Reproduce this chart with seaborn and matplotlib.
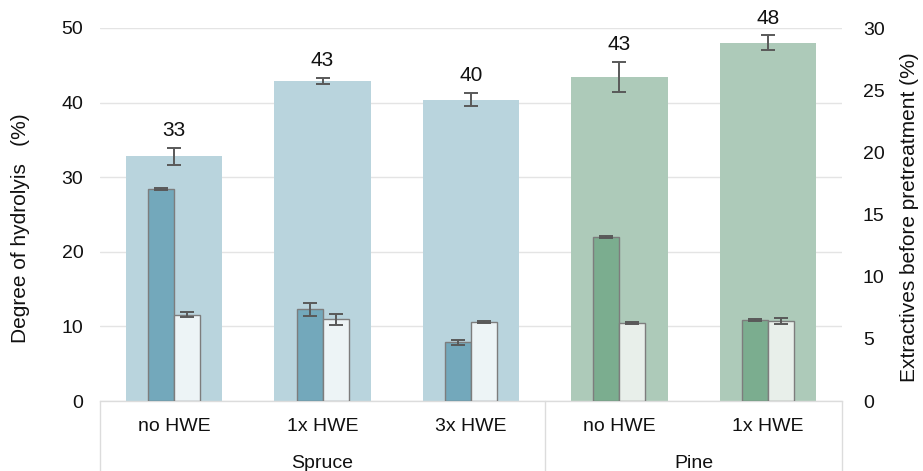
import numpy as np
import pandas as pd
import matplotlib
matplotlib.use("Agg")
import matplotlib.pyplot as plt
import matplotlib.transforms as mtransforms
import seaborn as sns

# ---- data -------------------------------------------------------------
woods = ["Spruce", "Spruce", "Spruce", "Pine", "Pine"]
treatments = ["no HWE", "1x HWE", "3x HWE", "no HWE", "1x HWE"]

hydrolysis = [32.8, 42.9, 40.4, 43.4, 48.0]          # degree of hydrolysis (%)
hydrolysis_err = [1.15, 0.35, 0.9, 2.0, 1.0]

extr_before = [17.05, 7.37, 4.72, 13.2, 6.49]        # extractives (%), first measurement
extr_before_err = [0.1, 0.5, 0.22, 0.1, 0.08]
extr_after = [6.94, 6.57, 6.36, 6.25, 6.46]          # extractives (%), second measurement
extr_after_err = [0.2, 0.43, 0.1, 0.08, 0.24]

left_ticks = [0, 10, 20, 30, 40, 50]
right_ticks = [0, 5, 10, 15, 20, 25, 30]

# ---- styling ----------------------------------------------------------
sns.set_theme(style="white")
plt.rcParams["font.family"] = ["Liberation Sans", "DejaVu Sans"]

bg_colors = {"Spruce": "#b9d4dd", "Pine": "#adcab9"}
small_colors = {
    "Spruce": {"dark": "#73a8bb", "light": "#edf4f6"},
    "Pine": {"dark": "#7bad8f", "light": "#e8efea"},
}
err_color = "#595959"
grid_color = "#e4e4e4"
frame_color = "#dcdcdc"
text_color = "#111111"
tick_size = 14
label_size = 15

keys = [f"{w}|{t}" for w, t in zip(woods, treatments)]

big = pd.DataFrame({"key": keys, "wood": woods, "value": hydrolysis})
small = pd.DataFrame({
    "key": keys * 2,
    "wood": woods * 2,
    "kind": ["dark"] * len(keys) + ["light"] * len(keys),
    "value": extr_before + extr_after,
    "err": extr_before_err + extr_after_err,
})

fig = plt.figure(figsize=(9.23, 4.71), dpi=100)
ax = fig.add_axes([100 / 923, 1 - 401 / 471, 742 / 923, 373 / 471])

# wide background bars: degree of hydrolysis
sns.barplot(data=big, x="key", y="value", hue="wood", order=keys,
            palette=bg_colors, width=0.65, dodge=False, legend=False,
            linewidth=0, saturation=1, ax=ax)

for p, err in zip(ax.patches, hydrolysis_err):
    cx = p.get_x() + p.get_width() / 2
    h = p.get_height()
    ax.errorbar(cx, h, yerr=err, fmt="none", ecolor=err_color,
                elinewidth=1.4, capsize=5, capthick=1.4, zorder=5)
    ax.annotate(f"{h:.0f}", xy=(cx, h + err), xytext=(0, 12.5),
                textcoords="offset points", ha="center", va="center",
                fontsize=15, color=text_color)

ax.set_ylim(0, 50)
ax.set_yticks(left_ticks)
ax.set_xlim(-0.5, len(keys) - 0.5)
ax.yaxis.grid(True, color=grid_color, linewidth=1)
ax.set_axisbelow(True)
for side in ["left", "right", "top"]:
    ax.spines[side].set_visible(False)
ax.spines["bottom"].set_color(frame_color)
ax.spines["bottom"].set_linewidth(1)
ax.tick_params(axis="both", length=0, labelsize=tick_size, colors=text_color)
ax.tick_params(axis="y", pad=12)
ax.tick_params(axis="x", pad=12.5)
ax.set_xticks(range(len(keys)))
ax.set_xticklabels(treatments)
ax.set_xlabel("")
ax.set_ylabel("Degree of hydrolyis   (%)", fontsize=label_size, color=text_color,
              va="center")
ax.yaxis.set_label_coords(-0.1078, 0.464)

# narrow bars on the secondary axis: extractives
ax2 = ax.twinx()
for wood in ["Spruce", "Pine"]:
    sub = small[small["wood"] == wood]
    sns.barplot(data=sub, x="key", y="value", hue="kind", order=keys,
                hue_order=["dark", "light"], palette=small_colors[wood],
                width=0.35, dodge=True, legend=False, saturation=1,
                edgecolor="#7d7d7d", linewidth=1, ax=ax2)

lookup = {(k, kind): e for k, kind, e in zip(small["key"], small["kind"], small["err"])}
patches = sorted(ax2.patches, key=lambda p: p.get_x())
order_pairs = [(k, kind) for k in keys for kind in ["dark", "light"]]
for p, pair in zip(patches, order_pairs):
    cx = p.get_x() + p.get_width() / 2
    ax2.errorbar(cx, p.get_height(), yerr=lookup[pair], fmt="none",
                 ecolor=err_color, elinewidth=1.4, capsize=5, capthick=1.4, zorder=5)

ax2.set_ylim(0, 30)
ax2.set_yticks(right_ticks)
ax2.set_xlim(-0.5, len(keys) - 0.5)
for side in ["left", "right", "top", "bottom"]:
    ax2.spines[side].set_visible(False)
ax2.tick_params(axis="y", length=0, labelsize=tick_size, colors=text_color, pad=15)
ax2.grid(False)
ax2.set_xlabel("")
ax2.set_ylabel("Extractives before pretreatment (%)", fontsize=label_size,
               color=text_color, va="center")
ax2.yaxis.set_label_coords(1.0916, 0.493)

# group separators and wood-species labels below the category axis
trans = mtransforms.blended_transform_factory(ax.transData, ax.transAxes)
bottom = -70 / 373
for xb in [-0.5, 2.5, len(keys) - 0.5]:
    ax.plot([xb, xb], [0, bottom], transform=trans, color=frame_color,
            linewidth=1, clip_on=False)

groups = {}
for i, w in enumerate(woods):
    groups.setdefault(w, []).append(i)
for w, idx in groups.items():
    ax.text(np.mean(idx), -62 / 373, w, transform=trans, ha="center",
            va="center", fontsize=tick_size, color=text_color)

fig.savefig("out.png", dpi=100)
